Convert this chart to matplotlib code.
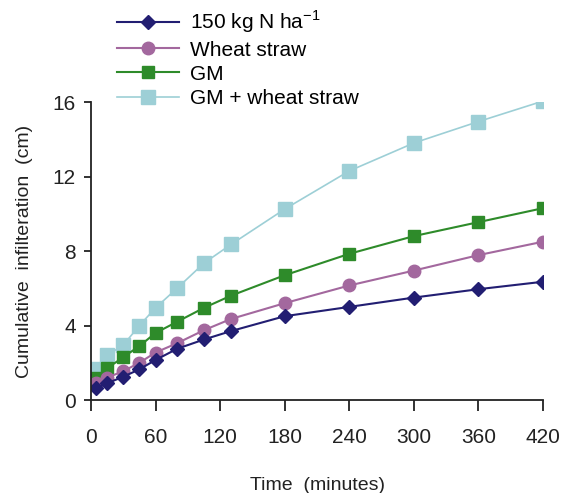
import matplotlib
matplotlib.use("Agg")
import matplotlib.pyplot as plt

plt.rcParams['font.family'] = ['Liberation Sans', 'DejaVu Sans']

time_min = [5, 15, 30, 45, 60, 80, 105, 130, 180, 240, 300, 360, 420]

n150 = [0.65, 0.9, 1.25, 1.65, 2.15, 2.75, 3.25, 3.7, 4.5, 5.0, 5.5, 5.95, 6.35]
wheat_straw = [0.9, 1.2, 1.55, 2.0, 2.55, 3.05, 3.75, 4.35, 5.2, 6.15, 6.95, 7.78, 8.5]
gm = [1.2, 1.7, 2.3, 2.9, 3.6, 4.2, 4.95, 5.6, 6.7, 7.85, 8.8, 9.55, 10.3]
gm_wheat = [1.65, 2.4, 2.95, 4.0, 4.95, 6.0, 7.35, 8.35, 10.25, 12.3, 13.8, 14.95, 16.05]

labels = ["150 kg N ha$^{\\mathregular{-1}}$", "Wheat straw", "GM", "GM + wheat straw"]

fig = plt.figure(figsize=(5.63, 4.93), dpi=100)
ax = fig.add_axes([0.1616, 0.1886, 0.803, 0.6045])

# drawn back to front so the lower series sit on top
h4, = ax.plot(time_min, gm_wheat, color="#9DCFD6", marker="s", ms=10, lw=1.2, label=labels[3])
h3, = ax.plot(time_min, gm, color="#2E8B2A", marker="s", ms=8, lw=1.5, label=labels[2])
h2, = ax.plot(time_min, wheat_straw, color="#A3689E", marker="o", ms=9, lw=1.5, label=labels[1])
h1, = ax.plot(time_min, n150, color="#221E72", marker="D", ms=7, lw=1.5, label=labels[0])

ax.set_xlim(0, 420)
ax.set_ylim(0, 16)
ax.set_xticks(range(0, 421, 60))
ax.set_yticks(range(0, 17, 4))
ax.spines[['top', 'right']].set_visible(False)
for s in ['left', 'bottom']:
    ax.spines[s].set_linewidth(1.3)
    ax.spines[s].set_color("#222222")
ax.tick_params(axis='x', direction='out', length=8, width=1.3, pad=12, labelsize=15, colors="#222222")
ax.tick_params(axis='y', direction='out', length=5, width=1.3, pad=6, labelsize=15, colors="#222222")

ax.set_xlabel("Time  (minutes)", fontsize=14, labelpad=22, color="#222222")
ax.set_ylabel("Cumulative  infilteration  (cm)", fontsize=14, labelpad=14, color="#222222")

fig.legend(handles=[h1, h2, h3, h4], loc="upper left", bbox_to_anchor=(0.18, 1.014),
           frameon=False, fontsize=15, handlelength=3.0, handletextpad=0.5,
           labelspacing=0.25, borderpad=0.25)

fig.savefig("out.png", dpi=100)
